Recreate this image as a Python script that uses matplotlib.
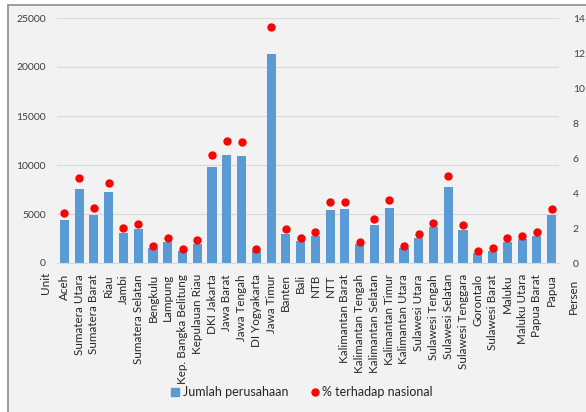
import matplotlib
matplotlib.use("Agg")
import matplotlib.pyplot as plt
from matplotlib.patches import Rectangle
from matplotlib.lines import Line2D

plt.rcParams['font.family'] = ['Lato', 'DejaVu Sans']

# Jumlah perusahaan per provinsi dan persentase terhadap nasional
provinsi = ['Aceh', 'Sumatera Utara', 'Sumatera Barat', 'Riau', 'Jambi',
            'Sumatera Selatan', 'Bengkulu', 'Lampung', 'Kep. Bangka Belitung',
            'Kepulauan Riau', 'DKI Jakarta', 'Jawa Barat', 'Jawa Tengah',
            'DI Yogyakarta', 'Jawa Timur', 'Banten', 'Bali', 'NTB', 'NTT',
            'Kalimantan Barat', 'Kalimantan Tengah', 'Kalimantan Selatan',
            'Kalimantan Timur', 'Kalimantan Utara', 'Sulawesi Utara',
            'Sulawesi Tengah', 'Sulawesi Selatan', 'Sulawesi Tenggara',
            'Gorontalo', 'Sulawesi Barat', 'Maluku', 'Maluku Utara',
            'Papua Barat', 'Papua']
jumlah = [4420, 7570, 4890, 7200, 3090, 3460, 1490, 2140, 1220, 1970,
          9780, 11040, 10900, 1220, 21300, 2960, 2210, 2750, 5430, 5470,
          1940, 3900, 5640, 1530, 2580, 3630, 7780, 3400, 1050, 1260,
          2140, 2410, 2750, 4890]
persen = [2.85, 4.85, 3.12, 4.57, 1.98, 2.21, 0.99, 1.41, 0.82, 1.29,
          6.2, 7.0, 6.9, 0.78, 13.49, 1.94, 1.41, 1.75, 3.46, 3.48,
          1.22, 2.49, 3.6, 0.97, 1.64, 2.3, 4.96, 2.17, 0.68, 0.86,
          1.41, 1.52, 1.77, 3.1]
kiri_ticks = [0, 5000, 10000, 15000, 20000, 25000]
kanan_ticks = [0, 2, 4, 6, 8, 10, 12, 14]

W, H = 586, 412
fig = plt.figure(figsize=(W / 100, H / 100), dpi=100, facecolor='white')

# panel abu-abu, hanya bingkai kiri dan atas yang terlihat
fig.patches.append(Rectangle((8 / W, -0.1), 1.2, 1.1 - 5 / H, transform=fig.transFigure,
                             facecolor='#f2f2f2', edgecolor='#8c8c8c',
                             linewidth=1.2, zorder=-5))

ax = fig.add_axes([57 / W, 1 - 263 / H, (559 - 57) / W, (263 - 18) / H])
ax.set_facecolor('none')
x = list(range(len(provinsi)))
ax.bar(x, jumlah, width=0.62, color='#5b9bd5', zorder=2)
ax.set_xlim(-0.5, len(provinsi) - 0.5)
ax.set_ylim(0, 25000)
ax.set_yticks(kiri_ticks)
ax.grid(axis='y', color='#d9d9d9', linewidth=0.8, zorder=0)
ax.set_axisbelow(True)
for s in ['top', 'right', 'left']:
    ax.spines[s].set_visible(False)
ax.spines['bottom'].set_color('#d9d9d9')
ax.set_xticks(x)
ax.set_xticklabels(provinsi, rotation=90, fontsize=8.4, color='#262626')
ax.tick_params(axis='x', length=0, pad=8)
ax.tick_params(axis='y', length=0, pad=8, labelsize=7.5, labelcolor='#404040')

ax2 = ax.twinx()
ax2.plot(x, persen, 'o', color='#ff0000', markersize=5, zorder=3)
ax2.set_ylim(0, 14)
ax2.set_yticks(kanan_ticks)
for s in ['top', 'right', 'left', 'bottom']:
    ax2.spines[s].set_visible(False)
ax2.tick_params(axis='y', length=0, pad=10, labelsize=7.5, labelcolor='#404040')

fig.text(45 / W, 1 - 283 / H, 'Unit', rotation=90, ha='center', va='center',
         fontsize=8.4, color='#262626')
fig.text(573 / W, 1 - 296 / H, 'Persen', rotation=90, ha='center', va='center',
         fontsize=8.4, color='#262626')

handles = [Line2D([], [], marker='s', linestyle='none', color='#5b9bd5', markersize=6),
           Line2D([], [], marker='o', linestyle='none', color='#ff0000', markersize=5)]
fig.legend(handles, ['Jumlah perusahaan', '% terhadap nasional'],
           loc='center', bbox_to_anchor=(301 / W, 1 - 392 / H), ncol=2,
           frameon=False, fontsize=9, handletextpad=0.1, columnspacing=1.6,
           handlelength=1.0, labelcolor='#262626')

fig.savefig('out.png', dpi=100, facecolor='white')
